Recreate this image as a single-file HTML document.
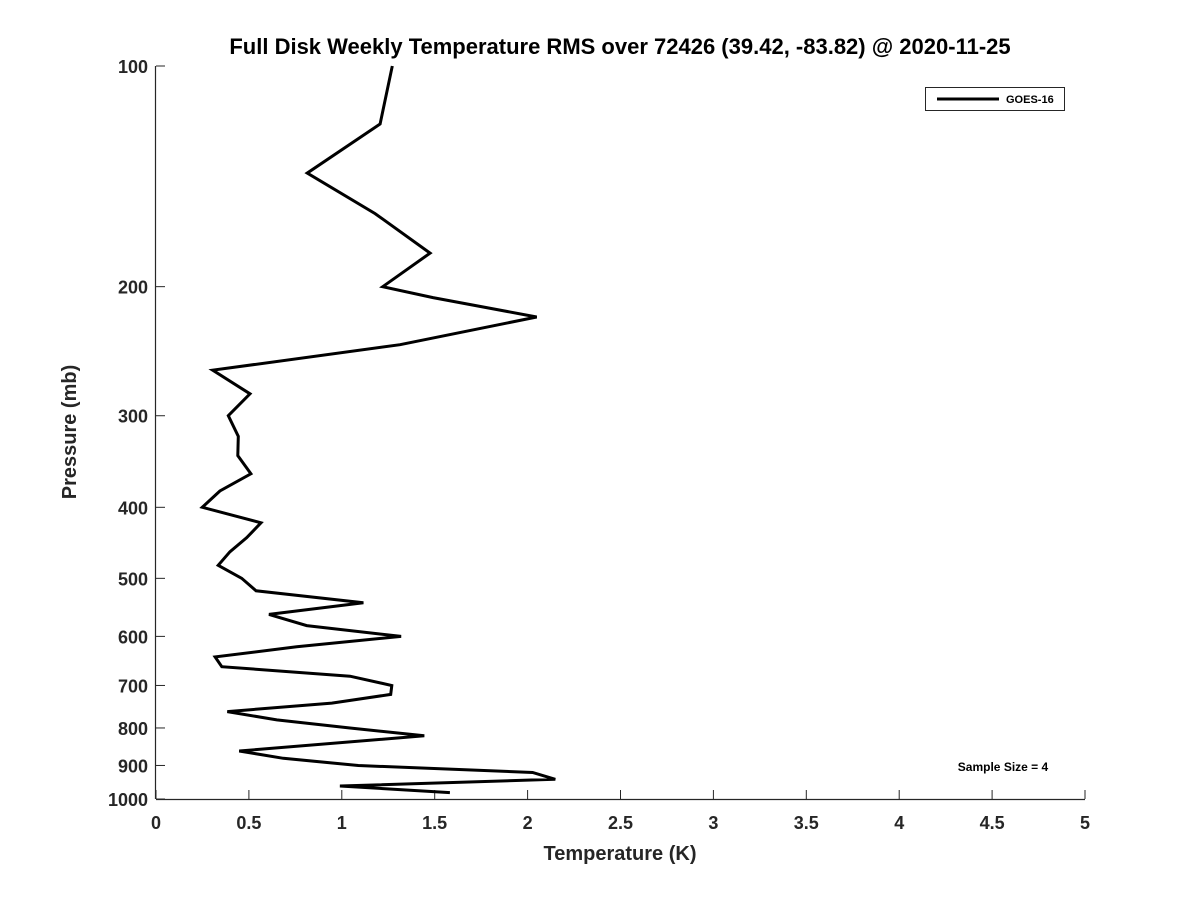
<!DOCTYPE html>
<html><head><meta charset="utf-8"><style>
html,body{margin:0;padding:0;background:#fff;}
svg{display:block;font-family:"Liberation Sans","DejaVu Sans",sans-serif;}
</style></head><body>
<svg id="chart" width="1200" height="900" viewBox="0 0 1200 900">
<rect width="1200" height="900" fill="#fff"/>
<text x="620" y="54" text-anchor="middle" font-size="22" font-weight="bold" fill="#000">Full Disk Weekly Temperature RMS over 72426 (39.42, -83.82) @ 2020-11-25</text>
<g id="axes"></g>
<g id="plot"></g>
<text x="620" y="860" text-anchor="middle" font-size="20" font-weight="bold" fill="#262626">Temperature (K)</text>
<text transform="translate(76,432) rotate(-90)" text-anchor="middle" font-size="20" font-weight="bold" fill="#262626">Pressure (mb)</text>
<g>
<rect x="925.5" y="87.5" width="139" height="23" fill="#fff" stroke="#262626" stroke-width="1"/>
<line x1="937" y1="99" x2="999" y2="99" stroke="#000" stroke-width="3"/>
<text x="1006" y="103" font-size="11" font-weight="bold" fill="#000">GOES-16</text>
</g>
<text x="1003" y="771" text-anchor="middle" font-size="12" font-weight="bold" fill="#000">Sample Size = 4</text>
</svg>
<script>
const pressures = [100,120,140,159,180,200,207,220,240,260,280,300,320,340,360,380,400,420,440,460,480,500,520,540,560,580,600,620,640,660,680,700,720,740,760,780,800,820,860,880,900,920,940,960,980];
const rmsValues = [1.272,1.206,0.814,1.179,1.475,1.220,1.491,2.049,1.313,0.305,0.506,0.389,0.443,0.440,0.511,0.344,0.249,0.565,0.488,0.398,0.335,0.461,0.538,1.116,0.608,0.811,1.319,0.757,0.318,0.354,1.044,1.269,1.263,0.946,0.384,0.650,1.044,1.444,0.448,0.685,1.089,2.027,2.149,0.990,1.582];
const xTicks = [0,0.5,1,1.5,2,2.5,3,3.5,4,4.5,5];
const xTickLabels = ["0","0.5","1","1.5","2","2.5","3","3.5","4","4.5","5"];
const yTicks = [100,200,300,400,500,600,700,800,900,1000];

const X0=156, X1=1085, Y0=66, Y1=799;
const xScale = v => X0 + (v-0)/(5-0)*(X1-X0);
const yScale = p => Y0 + Math.log10(p/100)*(Y1-Y0);
const NS='http://www.w3.org/2000/svg';
const axes=document.getElementById('axes'), plot=document.getElementById('plot');
function mk(tag, attrs, parent){const e=document.createElementNS(NS,tag);for(const k in attrs)e.setAttribute(k,attrs[k]);parent.appendChild(e);return e;}

const xl=mk('line',{x1:X0,y1:Y1+0.5,x2:X1,y2:Y1+0.5,stroke:'#262626','stroke-width':1.2},axes);


const yl=mk('line',{x1:X0-0.5,y1:Y0,x2:X0-0.5,y2:Y1,stroke:'#262626','stroke-width':1.2},axes);



xTicks.forEach((t,i)=>{
  const x=xScale(t);
  const tk=mk('line',{x1:x,y1:Y1,x2:x,y2:Y1-9,stroke:'#262626','stroke-width':1},axes);
  
  
  const tx=mk('text',{x:x,y:Y1+30,'text-anchor':'middle','font-size':18,'font-weight':'bold',fill:'#262626'},axes);
  tx.textContent=xTickLabels[i];
  
  
});
yTicks.forEach(t=>{
  const y=yScale(t);
  const tk=mk('line',{x1:X0,y1:y,x2:X0+9,y2:y,stroke:'#262626','stroke-width':1},axes);
  
  
  const tx=mk('text',{x:X0-8,y:y+7,'text-anchor':'end','font-size':18,'font-weight':'bold',fill:'#262626'},axes);
  tx.textContent=String(t);
  
  
});

const pts=pressures.map((p,i)=>xScale(rmsValues[i]).toFixed(1)+','+yScale(p).toFixed(1)).join(' ');
const line=mk('polyline',{points:pts,fill:'none',stroke:'#000','stroke-width':3,'stroke-linejoin':'miter'},plot);


</script>
</body></html>
